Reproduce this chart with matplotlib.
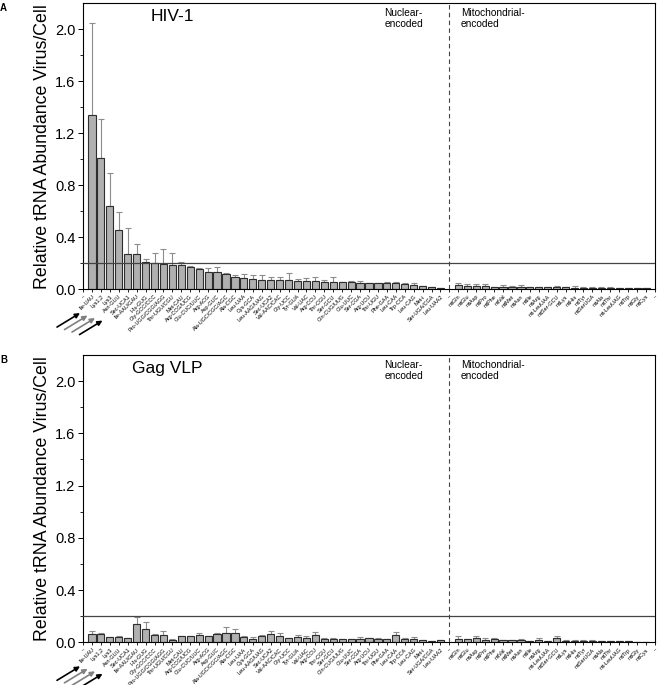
import numpy as np
import matplotlib
matplotlib.use('Agg')
import matplotlib.pyplot as plt

plt.rcParams['font.family'] = ['Liberation Sans', 'DejaVu Sans']

# data -----------------------------------------------------------------

nuclear_labels = ['Ile-UAU', 'Lys1,2', 'Lys3', 'Asn-GUU', 'Sec-UCA1', 'Ile-AAU/GAU',
                  'His-GUG', 'Gly-GCC/CCC', 'Pro-UGG/CGG/AGG', 'Thr-UGU/CGU', 'Met-CAU',
                  'Arg-CCG/UCG', 'Glu-CUC/UUC', 'Arg-ACG', 'Asp-GUC', 'Ala-UGC/CGC/AGC',
                  'Ala-CGC', 'Leu-UAA', 'Cys-GCA', 'Leu-AAG/UAG', 'Sec-UCA2', 'Val-AAC/CAC',
                  'Gly-UCC', 'Tyr-GUA', 'Val-UAC', 'Arg-CCU', 'Thr-CGU', 'Ser-GCU',
                  'Gln-CUG/UUG', 'Glu-UUC', 'Ser-CGA', 'Arg-UCU', 'Thr-UGU', 'Phe-GAA',
                  'Leu-CAA', 'Trp-CCA', 'Leu-CAG', 'Met-i', 'Ser-UGA/CGA', 'Leu-UAA2']

mito_labels = ['mtGln', 'mtGlu', 'mtAsp', 'mtPro', 'mtPhe', 'mtVal', 'mtMet', 'mtAsn',
               'mtIle', 'mtArg', 'mt-LeuUAA', 'mtSer-GCU', 'mtLys', 'mtHis', 'mtTyr',
               'mtSerUGA', 'mtAla', 'mtThr', 'mt-LeuUAG', 'mtTrp', 'mtGly', 'mtCys']

hiv_nuclear = [1.34, 1.005, 0.64, 0.456, 0.267, 0.267, 0.205, 0.197, 0.192, 0.187,
               0.182, 0.167, 0.152, 0.128, 0.128, 0.113, 0.095, 0.082, 0.077, 0.072,
               0.072, 0.067, 0.067, 0.064, 0.059, 0.059, 0.056, 0.053, 0.053, 0.053,
               0.048, 0.046, 0.043, 0.048, 0.046, 0.036, 0.031, 0.021, 0.013, 0.005]
hiv_nuclear_err = [0.71, 0.305, 0.25, 0.134, 0.2, 0.08, 0.023, 0.083, 0.113, 0.093,
                   0.028, 0.008, 0.008, 0.032, 0.042, 0.007, 0.01, 0.033, 0.028, 0.038,
                   0.018, 0.028, 0.053, 0.016, 0.028, 0.036, 0.016, 0.037, 0.0, 0.007,
                   0.017, 0.0, 0.0, 0.004, 0.012, 0.009, 0.014, 0.0, 0.0, 0.0]
hiv_mito = [0.028, 0.026, 0.023, 0.023, 0.018, 0.018, 0.018, 0.015, 0.013, 0.013, 0.013,
            0.015, 0.013, 0.012, 0.012, 0.012, 0.011, 0.010, 0.008, 0.007, 0.006, 0.005]
hiv_mito_err = [0.016, 0.01, 0.015, 0.017, 0.0, 0.01, 0.005, 0.015, 0.0, 0.003, 0.004,
                0.006, 0.004, 0.008, 0.002, 0.003, 0.004, 0.003, 0.0, 0.0, 0.0, 0.0]

vlp_nuclear = [0.063, 0.063, 0.038, 0.040, 0.030, 0.140, 0.104, 0.056, 0.056, 0.020,
               0.046, 0.046, 0.053, 0.048, 0.063, 0.074, 0.068, 0.040, 0.025, 0.048,
               0.061, 0.048, 0.033, 0.040, 0.033, 0.056, 0.028, 0.028, 0.023, 0.023,
               0.025, 0.030, 0.028, 0.023, 0.056, 0.023, 0.025, 0.020, 0.013, 0.018]
vlp_nuclear_err = [0.023, 0.012, 0.0, 0.005, 0.0, 0.053, 0.051, 0.01, 0.03, 0.005,
                   0.004, 0.0, 0.015, 0.004, 0.005, 0.041, 0.032, 0.008, 0.015, 0.01,
                   0.025, 0.026, 0.003, 0.016, 0.012, 0.023, 0.003, 0.003, 0.0, 0.0,
                   0.015, 0.003, 0.004, 0.002, 0.023, 0.008, 0.013, 0.0, 0.0, 0.002]
vlp_mito = [0.025, 0.025, 0.030, 0.018, 0.025, 0.018, 0.015, 0.018, 0.013, 0.020, 0.013,
            0.033, 0.013, 0.012, 0.012, 0.012, 0.011, 0.010, 0.008, 0.007, 0.006, 0.005]
vlp_mito_err = [0.02, 0.0, 0.015, 0.017, 0.006, 0.003, 0.0, 0.01, 0.0, 0.01, 0.0,
                0.015, 0.002, 0.002, 0.002, 0.002, 0.002, 0.002, 0.0, 0.0, 0.0, 0.0]

cutoff = 0.2
arrow_colors = ['black', 'gray', 'gray', 'black']

# layout ---------------------------------------------------------------

n_nuc = len(nuclear_labels)
n_mito = len(mito_labels)
split = n_nuc + 1
x_nuc = np.arange(1, n_nuc + 1)
x_mito = np.arange(split + 1, split + 1 + n_mito)
x_end = split + 1 + n_mito

tick_pos = [0] + list(x_nuc) + [split] + list(x_mito) + [x_end]
tick_lab = ['\u2013'] + nuclear_labels + ['\u2013'] + mito_labels + ['\u2013']


def draw_panel(ax, nuc, nuc_err, mito, mito_err, title, title_x, letter):
    """Draw one tRNA abundance panel."""

    vals = list(nuc) + list(mito)
    errs = list(nuc_err) + list(mito_err)
    xs = list(x_nuc) + list(x_mito)

    ax.bar(xs, vals, width=0.8, color='#b0b0b0', edgecolor='#2e2e2e', linewidth=0.8, zorder=2)
    ax.errorbar(xs, vals, yerr=[np.zeros(len(errs)), errs], fmt='none',
                ecolor='#8c8c8c', elinewidth=0.8, capsize=2.2, capthick=0.8, zorder=1)

    # cutoff line and nuclear / mito divider
    ax.axhline(cutoff, color='#444444', linewidth=0.9, zorder=3)
    ax.axvline(split, color='#444444', linewidth=0.8, linestyle=(0, (4, 3)), zorder=3)

    ax.set_xlim(0, x_end)
    ax.set_ylim(0, 2.2)
    ax.set_yticks(np.arange(0, 2.01, 0.4))
    ax.set_yticklabels(['%.1f' % v for v in np.arange(0, 2.01, 0.4)], fontsize=10.5)
    ax.set_yticks(np.arange(0.2, 2.2, 0.4), minor=True)
    ax.set_xticks(tick_pos)
    ax.set_xticklabels(tick_lab, rotation=45, ha='right', rotation_mode='anchor', fontsize=4.0)
    ax.tick_params(axis='x', length=2.5, width=0.6, pad=1)
    ax.tick_params(axis='y', which='major', length=3.5, width=0.7, pad=2)
    ax.tick_params(axis='y', which='minor', length=2, width=0.6)
    for s in ax.spines.values():
        s.set_linewidth(0.8)

    ax.set_ylabel('Relative tRNA Abundance Virus/Cell', fontsize=12.8, labelpad=3)

    ax.text(title_x, 2.1, title, fontsize=12.5, ha='center', va='center')
    ax.text(33.7, 2.16, 'Nuclear-\nencoded', fontsize=7.3, va='top', ha='left', linespacing=1.1)
    ax.text(42.3, 2.16, 'Mitochondrial-\nencoded', fontsize=7.3, va='top', ha='left', linespacing=1.1)

    # panel letter
    ax.text(-0.145, 1.0, letter, transform=ax.transAxes, fontsize=7, fontweight='bold',
            ha='left', va='top')

    # arrows under the first labels
    for i, c in enumerate(arrow_colors):
        dx = 7.5 * i
        dy = -2.5 * i
        ax.annotate('', xy=(-3 + dx, -24 + dy), xytext=(-26 + dx, -38 + dy),
                    xycoords='axes pixels', textcoords='axes pixels',
                    arrowprops=dict(arrowstyle='-|>', color=c, lw=1.2,
                                    mutation_scale=7, shrinkA=0, shrinkB=0),
                    annotation_clip=False)


fig = plt.figure(figsize=(6.62, 6.85), dpi=100)
ax_a = fig.add_axes([0.1254, 0.578, 0.864, 0.4175])
ax_b = fig.add_axes([0.1254, 0.0623, 0.864, 0.4195])

draw_panel(ax_a, hiv_nuclear, hiv_nuclear_err, hiv_mito, hiv_mito_err, 'HIV-1', 10.0, 'A')
draw_panel(ax_b, vlp_nuclear, vlp_nuclear_err, vlp_mito, vlp_mito_err, 'Gag VLP', 9.4, 'B')

fig.savefig('out.png', dpi=100)
